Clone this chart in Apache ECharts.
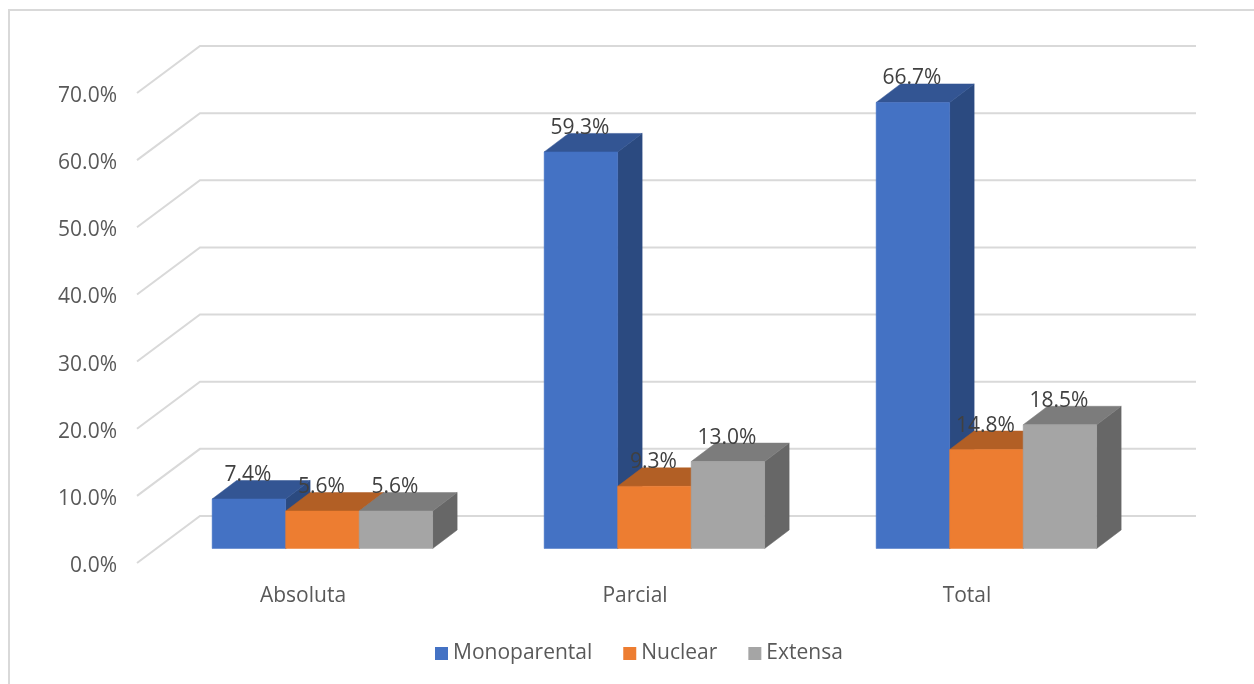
<!DOCTYPE html>
<html>
<head>
<meta charset="utf-8">
<style>html,body{margin:0;padding:0;background:#fff}#c{width:1254px;height:684px}</style>
<script src="https://cdn.jsdelivr.net/npm/echarts@6/dist/echarts.min.js"></script>
</head>
<body>
<div id="c"></div>
<script>
const categories = ['Absoluta', 'Parcial', 'Total'];
const monoparental = [7.4, 59.3, 66.7];
const nuclear = [5.6, 9.3, 14.8];
const extensa = [5.6, 13.0, 18.5];
const yTicks = [0, 10, 20, 30, 40, 50, 60, 70];

const FONT = '"Open Sans"';
const WALL_DX = 63, WALL_DY = -47;      // back wall offset from the front plane
const PLANE_DX = 19.4, PLANE_DY = -14.5; // bars' front-face plane offset
const PLANE_SCALE = 0.996;               // bars' plane sits slightly further back
const DEPTH_DX = 24.5, DEPTH_DY = -18.5; // bar depth
const BAR_W = 73.5;

const chart = echarts.init(document.getElementById('c'), null, {renderer: 'canvas'});

function wallSeries() {
  return {
    type: 'custom', name: 'walls', z: 1, silent: true,
    data: yTicks.map(t => [0, t]),
    encode: {x: 0, y: 1},
    renderItem(params, api) {
      const cs = params.coordSys;
      const y = api.coord([0, api.value(1)])[1];
      const x0 = cs.x, x1 = cs.x + WALL_DX, x2 = cs.x + cs.width + WALL_DX, y1 = y + WALL_DY;
      const style = {stroke: '#D9D9D9', lineWidth: 2, fill: null, lineJoin: 'miter'};
      return {type: 'polyline', shape: {points: [[x0, y], [x1, y1], [x2, y1]]}, style};
    }
  };
}

function barSeries(name, values, idx, front, top, side) {
  return {
    type: 'custom', name, z: 2 + idx, silent: true,
    itemStyle: {color: front},
    data: values.map((v, i) => [i, v]),
    encode: {x: 0, y: 1},
    renderItem(params, api) {
      const cat = api.value(0), v = api.value(1);
      const p = api.coord([cat, v]), p0 = api.coord([cat, 0]);
      const cx = p[0] + PLANE_DX + (idx - 1) * BAR_W;
      const yB = p0[1] + PLANE_DY;
      const yT = yB + (p[1] - p0[1]) * PLANE_SCALE;
      const xL = cx - BAR_W / 2, xR = cx + BAR_W / 2;
      const poly = (pts, fill) => ({type: 'polygon', shape: {points: pts},
        style: {fill, stroke: fill, lineWidth: 0.5}});
      return {type: 'group', children: [
        poly([[xR, yT], [xR + DEPTH_DX, yT + DEPTH_DY], [xR + DEPTH_DX, yB + DEPTH_DY], [xR, yB]], side),
        poly([[xL, yT], [xL + DEPTH_DX, yT + DEPTH_DY], [xR + DEPTH_DX, yT + DEPTH_DY], [xR, yT]], top),
        poly([[xL, yT], [xR, yT], [xR, yB], [xL, yB]], front),
        {type: 'text', z2: 100, style: {
          text: v.toFixed(1) + '%', x: cx - 1, y: yT - 24, align: 'center', verticalAlign: 'middle',
          fill: '#404040', font: '21px ' + FONT}}
      ]};
    }
  };
}

chart.setOption({
  animation: false,
  backgroundColor: '#fff',
  grid: {left: 137, right: 121, top: 93, bottom: 121, containLabel: false},
  xAxis: {
    type: 'category', data: categories,
    axisLine: {show: false}, axisTick: {show: false}, splitLine: {show: false},
    axisLabel: {color: '#595959', fontFamily: FONT, fontSize: 21, margin: 23}
  },
  yAxis: {
    type: 'value', min: 0, max: 70, interval: 10,
    axisLine: {show: false}, axisTick: {show: false}, splitLine: {show: false},
    axisLabel: {color: '#595959', fontFamily: FONT, fontSize: 21, margin: 20,
      verticalAlign: 'top', verticalAlignMinLabel: 'top', verticalAlignMaxLabel: 'top', lineHeight: 6,
      formatter: v => v.toFixed(1) + '%'}
  },
  legend: {
    data: ['Monoparental', 'Nuclear', 'Extensa'],
    left: 435, top: 643, padding: 0, icon: 'rect', itemWidth: 13, itemHeight: 13, itemGap: 31,
    textStyle: {color: '#595959', fontFamily: FONT, fontSize: 21},
    selectedMode: false
  },
  graphic: [{type: 'rect', silent: true, z: 0,
    shape: {x: 9, y: 10, width: 1300, height: 720},
    style: {fill: null, stroke: '#D9D9D9', lineWidth: 2}}],
  series: [
    wallSeries(),
    barSeries('Monoparental', monoparental, 0, '#4472C4', '#335593', '#2B4A80'),
    barSeries('Nuclear', nuclear, 1, '#ED7D31', '#B25F25', '#9E5423'),
    barSeries('Extensa', extensa, 2, '#A5A5A5', '#7C7C7C', '#676767')
  ]
});
</script>
</body>
</html>
